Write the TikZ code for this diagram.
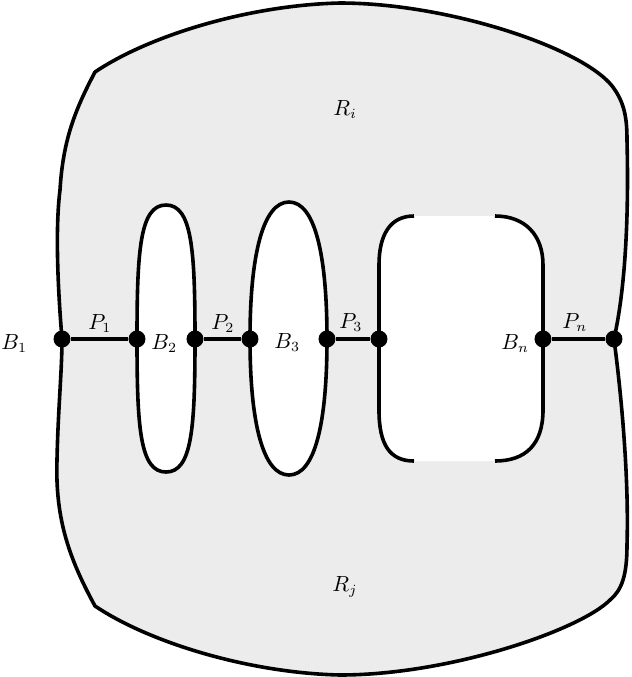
\documentclass[tikz,border=0pt]{standalone}
\begin{document}
\begin{tikzpicture}[x=0.5pt,y=-0.5pt,
  bd/.style={line width=1.8pt,line join=round},
  dot/.style={circle,fill=black,inner sep=0pt,minimum size=8.5pt},
  lab/.style={inner sep=0pt,anchor=base west,font=\fontsize{10.5}{12}\selectfont}]
\useasboundingbox (0,0) rectangle (632,677);
% outer region
\filldraw[fill=gray!15,bd]
  (62,339) .. controls (58,290) and (55,230) .. (60,190)
  .. controls (63,140) and (75,110) .. (95,72)
  .. controls (150,35) and (250,5) .. (340,3)
  .. controls (450,3) and (590,50) .. (615,90)
  .. controls (625,105) and (627,120) .. (627,140)
  .. controls (629,220) and (625,290) .. (614,339)
  .. controls (622,400) and (629,480) .. (627,545)
  .. controls (627,575) and (622,590) .. (610,600)
  .. controls (580,630) and (450,675) .. (340,675)
  .. controls (250,673) and (150,643) .. (95,606)
  .. controls (70,560) and (55,520) .. (57,460)
  .. controls (58,410) and (62,370) .. (62,339) -- cycle;
% holes
\filldraw[fill=white,bd] (137,339) .. controls (137,250) and (140,205) .. (166,205)
  .. controls (192,205) and (195,250) .. (195,339)
  .. controls (195,428) and (192,472) .. (166,472)
  .. controls (140,472) and (137,428) .. (137,339) -- cycle;
\filldraw[fill=white,bd] (250,339) .. controls (250,255) and (263,202) .. (289,202)
  .. controls (315,202) and (327,255) .. (327,339)
  .. controls (327,423) and (315,475) .. (289,475)
  .. controls (263,475) and (250,423) .. (250,339) -- cycle;
\fill[white] (414,216) .. controls (390,216) and (379,235) .. (379,265) -- (379,410)
  .. controls (379,445) and (390,461) .. (414,461) -- (495,461)
  .. controls (525,461) and (543,445) .. (543,410) -- (543,265)
  .. controls (543,235) and (525,216) .. (495,216) -- cycle;
\draw[bd] (414,216) .. controls (390,216) and (379,235) .. (379,265) -- (379,410)
  .. controls (379,445) and (390,461) .. (414,461);
\draw[bd] (495,216) .. controls (525,216) and (543,235) .. (543,265) -- (543,410)
  .. controls (543,445) and (525,461) .. (495,461);
% dots
\node[dot] (b1) at (62,339) {};
\node[dot] (b2l) at (137,339) {};
\node[dot] (b2r) at (195,339) {};
\node[dot] (b3l) at (250,339) {};
\node[dot] (b3r) at (327,339) {};
\node[dot] (bnl) at (379,339) {};
\node[dot] (bnr) at (543,339) {};
\node[dot] (b1r) at (614,339) {};
\draw[bd] (b1) -- (b2l);
\draw[bd] (b2r) -- (b3l);
\draw[bd] (b3r) -- (bnl);
\draw[bd] (bnr) -- (b1r);
% labels
\node[lab] (lB1) at (1,349) {$B_1$};
\node[lab] (lP1) at (88,329) {$P_1$};
\node[lab] (lB2) at (151,349) {$B_2$};
\node[lab] (lP2) at (211,329) {$P_2$};
\node[lab] (lB3) at (274,348) {$B_3$};
\node[lab] (lP3) at (339,328) {$P_3$};
\node[lab] (lBn) at (501,349) {$B_n$};
\node[lab] (lPn) at (562,328) {$P_n$};
\node[lab] (lRi) at (333,115) {$R_i$};
\node[lab] (lRj) at (332,591) {$R_j$};
\end{tikzpicture}
\end{document}
